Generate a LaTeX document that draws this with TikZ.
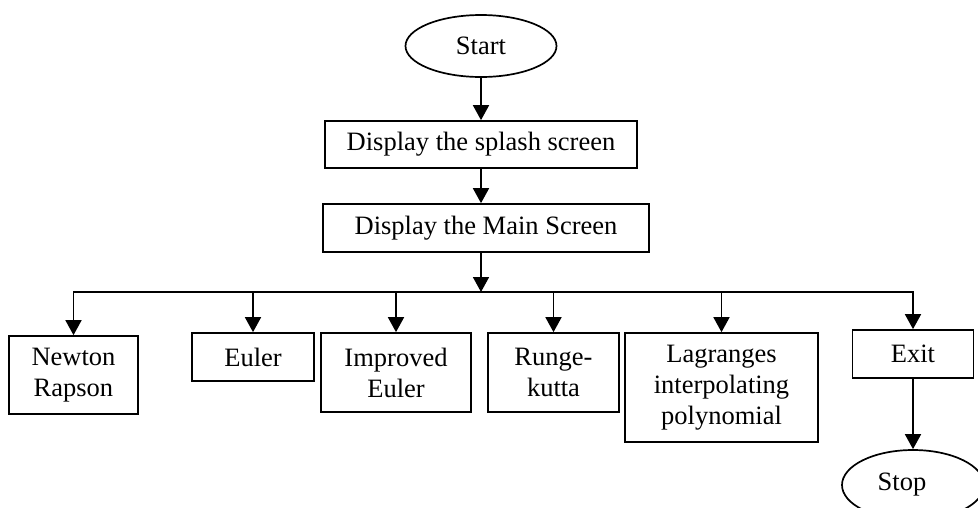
\documentclass[tikz,border=0pt]{standalone}
\usepackage{fontspec}
\setmainfont{Liberation Serif}
\usetikzlibrary{arrows.meta,shapes.geometric}
\begin{document}
\begin{tikzpicture}[x=1pt,y=-1pt,
  line width=1.7pt,
  every node/.style={font=\fontsize{26.5}{31}\selectfont, inner sep=0pt, align=center},
  box/.style={draw, rectangle},
  oval/.style={draw, ellipse},
  arr/.style={-{Triangle[length=15pt,width=16pt]}}]
\useasboundingbox (0,0) rectangle (978,507);
\node[oval, minimum width=151pt, minimum height=62pt] (start) at (481,46) {Start};
\node[box, minimum width=312pt, minimum height=47pt] (splash) at (481,144.5) {Display the splash screen};
\node[box, minimum width=326pt, minimum height=48pt] (main) at (486,228) {Display the Main Screen};
\coordinate (bus) at (481,292);
\node[box, minimum width=129pt, minimum height=78pt] (newton) at (73.5,375) {Newton\\Rapson};
\node[box, minimum width=122pt, minimum height=48pt] (euler) at (253,357) {Euler};
\node[box, minimum width=150pt, minimum height=79pt] (improved) at (396,372.5) {Improved\\Euler};
\node[box, minimum width=131pt, minimum height=79pt] (runge) at (553.5,372.5) {Runge-\\kutta};
\node[box, minimum width=193pt, minimum height=109pt] (lagr) at (721.5,387.5) {Lagranges\\interpolating\\polynomial};
\node[box, minimum width=121pt, minimum height=48pt] (exit) at (913,354) {Exit};
\node[oval, minimum width=142pt, minimum height=70pt] (stop) at (913,485) {};
\node (stoptext) at (902,485) {Stop};
\draw[arr] (start) -- (start |- splash.north);
\draw[arr] (splash.south -| start) -- (start |- main.north);
\draw[arr] (main.south -| bus) -- (bus);
\draw[arr] (bus) -| (newton.north);
\draw[arr] (bus) -| (euler.north);
\draw[arr] (bus) -| (improved.north);
\draw[arr] (bus) -| (runge.north);
\draw[arr] (bus) -| (lagr.north);
\draw[arr] (bus) -| (exit.north);
\draw[arr] (exit) -- (stop);
\end{tikzpicture}
\end{document}
